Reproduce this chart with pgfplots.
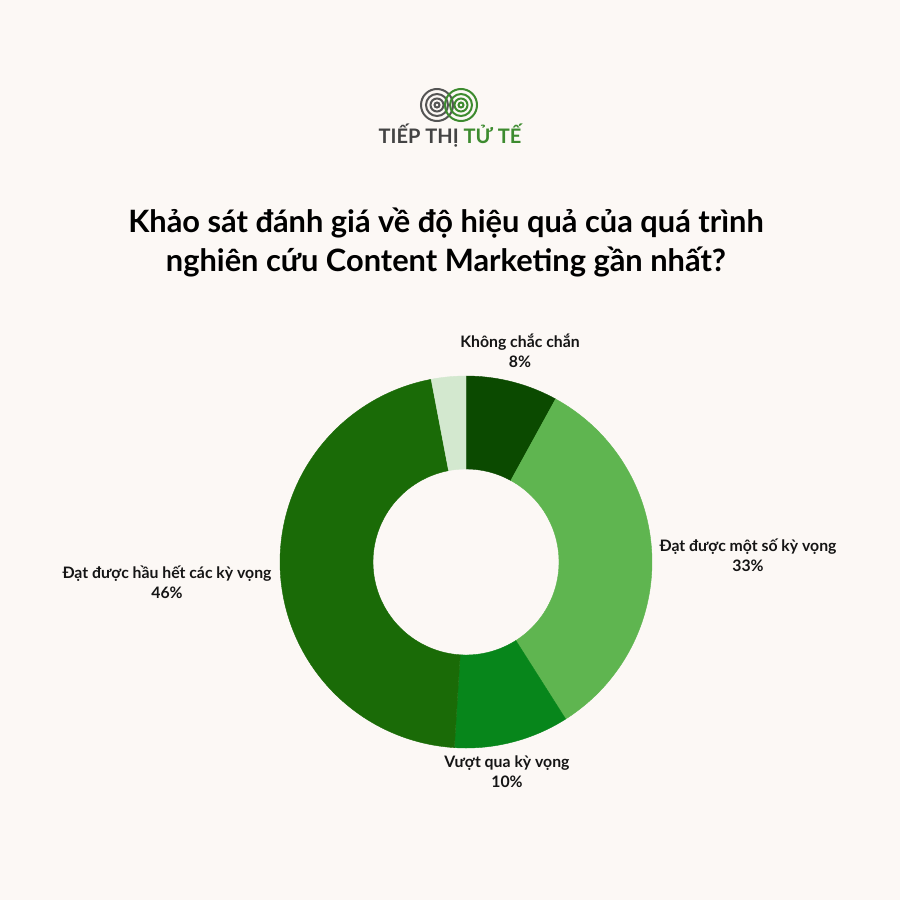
\documentclass[border=0pt]{standalone}
\usepackage{pgfplots}
\pgfplotsset{compat=1.18}
\usepackage{fontspec}
\setmainfont{Lato}
\definecolor{bg}{HTML}{FCF8F5}
\definecolor{cA}{HTML}{0B4A00}
\definecolor{cB}{HTML}{5FB550}
\definecolor{cC}{HTML}{07861B}
\definecolor{cD}{HTML}{1A6B07}
\definecolor{cE}{HTML}{D3E8CF}
\definecolor{txt}{HTML}{151515}
\definecolor{logogray}{HTML}{555555}
\definecolor{logogreen}{HTML}{3D8B2F}
% annular sector: #1 start (percent), #2 share (percent), #3 colour
\newcommand{\slice}[3]{%
\addplot[fill=#3, draw=#3, line width=0.4pt, samples at={0,1,...,201}, variable=\t]
 ({466 + ((\t<=100) ? 186 : 93)*cos(90-3.6*((\t<=100) ? (#1+#2*\t/100) : (#1+#2-#2*(\t-101)/100)))},
  {562 - ((\t<=100) ? 186 : 93)*sin(90-3.6*((\t<=100) ? (#1+#2*\t/100) : (#1+#2-#2*(\t-101)/100)))}) -- cycle;
}
\begin{document}
\begin{tikzpicture}
\fill[bg] (0,0) rectangle (900pt,900pt);
\begin{axis}[at={(0,0)}, anchor=south west, scale only axis, width=900pt, height=900pt,
  xmin=0, xmax=900, ymin=0, ymax=900, y dir=reverse, hide axis, clip=false]
\slice{0}{8}{cA}
\slice{8}{33}{cB}
\slice{41}{10}{cC}
\slice{51}{46}{cD}
\slice{97}{3}{cE}
% labels
\begin{scope}[every node/.style={align=center, text=txt, font=\fontsize{15.8}{20}\selectfont\bfseries}]
\node at (axis cs:520,351) {Không chắc chắn\\8\%};
\node at (axis cs:748,555) {Đạt được một số kỳ vọng\\33\%};
\node at (axis cs:507,772) {Vượt qua kỳ vọng\\10\%};
\node at (axis cs:167,582) {Đạt được hầu hết các kỳ vọng\\46\%};
\end{scope}
% title
\node[align=center, text=black, font=\fontsize{30.8}{39}\selectfont\bfseries] at (axis cs:446,242)
  {Khảo sát đánh giá về độ hiệu quả của quá trình\\nghiên cứu Content Marketing gần nhất?};
% logo
\draw[logogray, line width=2pt] (axis cs:437,105) circle[radius=16pt];
\draw[logogray, line width=2pt] (axis cs:437,105) circle[radius=11pt];
\draw[logogray, line width=2pt] (axis cs:437,105) circle[radius=6.5pt];
\draw[logogray, line width=2pt] (axis cs:437,105) circle[radius=2.5pt];
\draw[logogreen, line width=2pt] (axis cs:461,105) circle[radius=16pt];
\draw[logogreen, line width=2pt] (axis cs:461,105) circle[radius=11pt];
\draw[logogreen, line width=2pt] (axis cs:461,105) circle[radius=6.5pt];
\draw[logogreen, line width=2pt] (axis cs:461,105) circle[radius=2.5pt];
\node[anchor=base, font=\fontsize{20}{24}\selectfont\bfseries] at (axis cs:450,143)
  {\textcolor{logogray!80!black}{TIẾP THỊ} \textcolor{logogreen}{TỬ TẾ}};
\end{axis}
\end{tikzpicture}
\end{document}
